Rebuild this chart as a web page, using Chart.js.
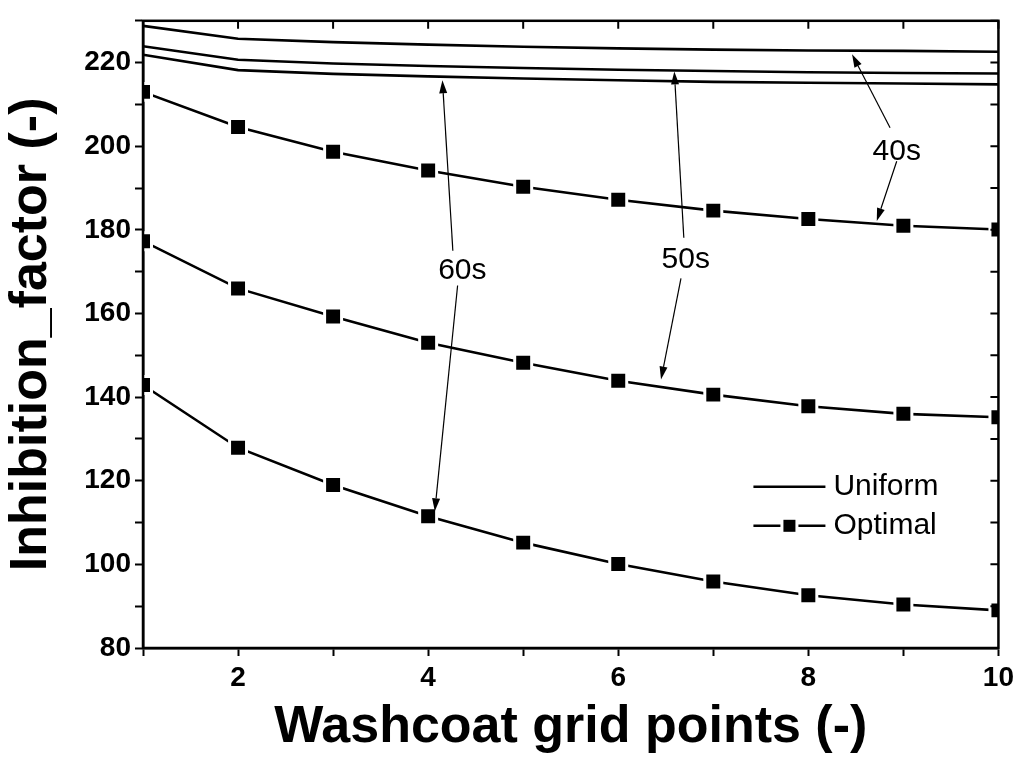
<!DOCTYPE html>
<html lang="en">
<head>
  <meta charset="UTF-8" />
  <title>Inhibition factor vs washcoat grid points</title>
  <script src="https://cdn.jsdelivr.net/npm/chart.js"></script>
  <style>
    html, body { margin: 0; padding: 0; background: #fff; }
    #wrap { width: 1019px; height: 762px; }
  </style>
</head>
<body>
  <div id="wrap"><canvas id="chart" width="1019" height="762"></canvas></div>

  <script>
    // grid points on x
    const gridPoints = [1, 2, 3, 4, 5, 6, 7, 8, 9, 10];

    // uniform washcoat (plain lines)
    const uniform40 = [228.8, 225.7, 224.9, 224.3, 223.8, 223.4, 223.1, 222.9, 222.8, 222.6];
    const uniform50 = [223.9, 220.7, 219.8, 219.2, 218.7, 218.3, 218.0, 217.7, 217.5, 217.4];
    const uniform60 = [221.9, 218.2, 217.3, 216.7, 216.2, 215.8, 215.4, 215.2, 215.0, 214.8];

    // optimal washcoat (line + squares)
    const optimal40 = [213.0, 204.6, 198.7, 194.2, 190.3, 187.2, 184.6, 182.6, 181.0, 180.1];
    const optimal50 = [177.3, 166.0, 159.3, 153.0, 148.2, 143.9, 140.6, 137.8, 136.0, 135.2];
    const optimal60 = [142.9, 127.9, 119.0, 111.5, 105.2, 100.1, 95.9, 92.6, 90.4, 89.0];

    const xTickLabels = [2, 4, 6, 8, 10];
    const yTickLabels = [80, 100, 120, 140, 160, 180, 200, 220];

    // annotation arrows, in data units: label position, then [from, to] pairs
    const notes = [
      { text: '40s', at: [8.93, 198.7], arrows: [[[8.86, 204.4], [8.46, 222.0]], [[8.93, 196.4], [8.72, 182.1]]] },
      { text: '50s', at: [6.71, 172.9], arrows: [[[6.69, 178.1], [6.59, 217.9]], [[6.66, 168.4], [6.45, 144.2]]] },
      { text: '60s', at: [4.36, 170.3], arrows: [[[4.26, 175.0], [4.15, 215.8]], [[4.31, 166.7], [4.07, 112.7]]] }
    ];

    const pts = arr => arr.map((v, i) => ({ x: gridPoints[i], y: v }));

    function uniformSet(arr) {
      return {
        label: 'Uniform', data: pts(arr), borderColor: '#000', borderWidth: 2.6,
        pointRadius: 0, tension: 0, clip: 0
      };
    }
    function optimalSet(arr) {
      return {
        label: 'Optimal', data: pts(arr), borderColor: '#000', borderWidth: 2.6,
        pointStyle: 'rect', pointRadius: 12, pointBackgroundColor: '#000',
        pointBorderColor: '#fff', pointBorderWidth: 3, tension: 0, clip: 0
      };
    }

    function arrow(ctx, x1, y1, x2, y2) {
      const a = Math.atan2(y2 - y1, x2 - x1);
      const len = 13, half = 4;
      ctx.beginPath();
      ctx.moveTo(x1, y1);
      ctx.lineTo(x2 - len * Math.cos(a), y2 - len * Math.sin(a));
      ctx.stroke();
      ctx.beginPath();
      ctx.moveTo(x2, y2);
      ctx.lineTo(x2 - len * Math.cos(a) + half * Math.sin(a), y2 - len * Math.sin(a) - half * Math.cos(a));
      ctx.lineTo(x2 - len * Math.cos(a) - half * Math.sin(a), y2 - len * Math.sin(a) + half * Math.cos(a));
      ctx.closePath();
      ctx.fill();
    }

    const extras = {
      id: 'extras',
      afterDatasetsDraw(chart) {
        const { ctx, scales: { x, y } } = chart;
        ctx.save();
        ctx.strokeStyle = '#000';
        ctx.fillStyle = '#000';
        ctx.lineWidth = 1.2;
        ctx.font = '30px "Liberation Sans", Arial, sans-serif';
        ctx.textAlign = 'center';
        ctx.textBaseline = 'middle';
        notes.forEach(n => {
          n.arrows.forEach(([p, q]) => {
            arrow(ctx, x.getPixelForValue(p[0]), y.getPixelForValue(p[1]),
                       x.getPixelForValue(q[0]), y.getPixelForValue(q[1]));
          });
          ctx.fillText(n.text, x.getPixelForValue(n.at[0]), y.getPixelForValue(n.at[1]));
        });
        ctx.restore();
      },
      afterDraw(chart) {
        const { ctx, chartArea: a, scales: { x, y } } = chart;
        ctx.save();
        ctx.strokeStyle = '#000';
        ctx.lineWidth = 2.5;
        ctx.strokeRect(a.left, a.top, a.right - a.left, a.bottom - a.top);
        // mirrored inward ticks on top and right
        ctx.lineWidth = 2;
        ctx.beginPath();
        x.ticks.forEach(t => {
          const px = x.getPixelForValue(t.value);
          ctx.moveTo(px, a.top); ctx.lineTo(px, a.top + 8);
        });
        y.ticks.forEach(t => {
          const py = y.getPixelForValue(t.value);
          ctx.moveTo(a.right, py); ctx.lineTo(a.right - 8, py);
        });
        ctx.stroke();

        // legend
        const lx = a.right - 245, ly1 = a.top + 466, ly2 = a.top + 505;
        ctx.lineWidth = 2.6;
        ctx.beginPath();
        ctx.moveTo(lx, ly1); ctx.lineTo(lx + 72, ly1);
        ctx.moveTo(lx, ly2); ctx.lineTo(lx + 27, ly2);
        ctx.moveTo(lx + 45, ly2); ctx.lineTo(lx + 72, ly2);
        ctx.stroke();
        ctx.fillStyle = '#000';
        ctx.fillRect(lx + 30, ly2 - 6, 12, 12);
        ctx.font = '30px "Liberation Sans", Arial, sans-serif';
        ctx.textAlign = 'left';
        ctx.textBaseline = 'middle';
        ctx.fillText('Uniform', lx + 80, ly1);
        ctx.fillText('Optimal', lx + 80, ly2);
        ctx.restore();
      }
    };

    const tickFont = { family: '"Liberation Sans", Arial, sans-serif', size: 28, weight: 'bold' };
    const titleFont = { family: '"Liberation Sans", Arial, sans-serif', size: 52, weight: 'bold' };

    new Chart(document.getElementById('chart'), {
      type: 'line',
      data: {
        datasets: [
          uniformSet(uniform40), uniformSet(uniform50), uniformSet(uniform60),
          optimalSet(optimal40), optimalSet(optimal50), optimalSet(optimal60)
        ]
      },
      options: {
        responsive: false,
        animation: false,
        layout: { padding: { top: 15, right: 19, left: 0, bottom: 0 } },
        plugins: { legend: { display: false }, tooltip: { enabled: false } },
        scales: {
          x: {
            type: 'linear', min: 1, max: 10,
            afterFit: s => { s.height = 114; },
            ticks: {
              stepSize: 1, color: '#000', font: tickFont, padding: 5, maxRotation: 0,
              callback: v => xTickLabels.includes(v) ? String(v) : ''
            },
            grid: { drawOnChartArea: false, tickLength: 8, tickColor: '#000', tickWidth: 2 },
            border: { color: '#000', width: 2.5 },
            title: { display: true, text: 'Washcoat grid points (-)', color: '#000', font: titleFont, padding: { top: 0, bottom: 3 } }
          },
          y: {
            min: 80, max: 230,
            afterFit: s => { s.width = 143; },
            ticks: {
              stepSize: 10, color: '#000', font: tickFont, padding: 4,
              callback: v => yTickLabels.includes(v) ? String(v) : ''
            },
            grid: { drawOnChartArea: false, tickLength: 8, tickColor: '#000', tickWidth: 2 },
            border: { color: '#000', width: 2.5 },
            title: { display: true, text: 'Inhibition_factor (-)', color: '#000', font: titleFont, padding: { top: 0, bottom: 0 } }
          }
        }
      },
      plugins: [extras]
    });
  </script>
</body>
</html>
